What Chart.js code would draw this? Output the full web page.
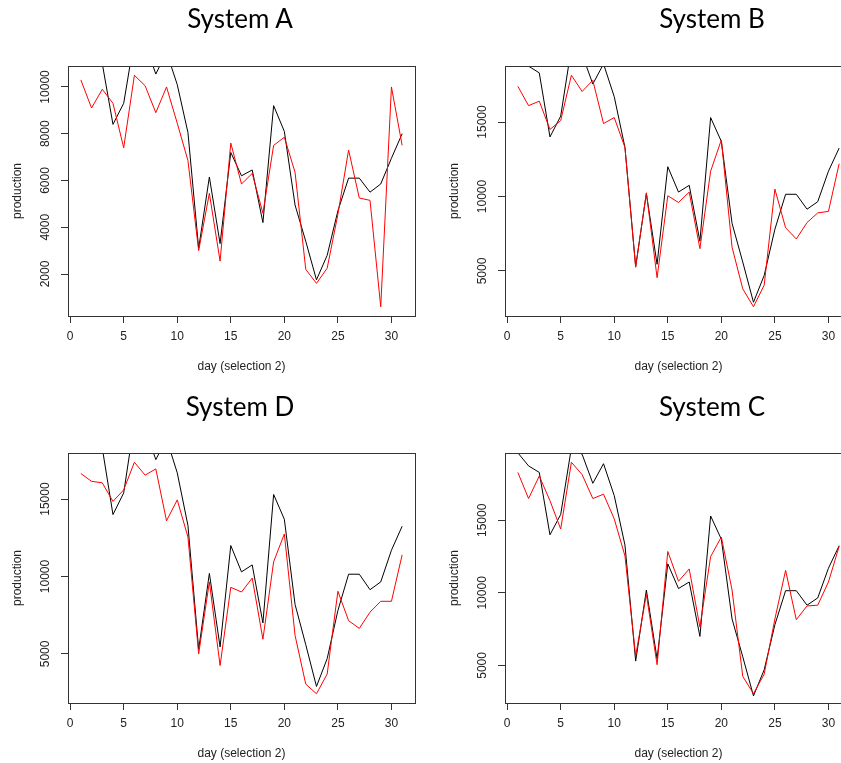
<!DOCTYPE html>
<html>
<head>
<meta charset="utf-8">
<script src="https://cdn.jsdelivr.net/npm/chart.js@4.4.1/dist/chart.umd.min.js"></script>
<style>
  html, body { margin: 0; padding: 0; background: #fff; }
  body { position: relative; width: 841px; height: 763px; overflow: hidden; }
  .panel { position: absolute; }
  .title {
    position: absolute; width: 200px; text-align: center;
    font-family: Lato, "Open Sans", sans-serif; font-size: 26px; line-height: 26px; color: #000;
  }
</style>
</head>
<body>
<canvas id="sysA" class="panel" width="437" height="387" style="left:0;top:0"></canvas>
<canvas id="sysB" class="panel" width="437" height="387" style="left:437px;top:0"></canvas>
<canvas id="sysD" class="panel" width="437" height="387" style="left:0;top:387px"></canvas>
<canvas id="sysC" class="panel" width="437" height="387" style="left:437px;top:387px"></canvas>
<div class="title" style="left:140px;top:5px">System A</div>
<div class="title" style="left:612px;top:5px">System B</div>
<div class="title" style="left:140px;top:393px">System D</div>
<div class="title" style="left:612px;top:393px">System C</div>
<script>
const days = [1, 2, 3, 4, 5, 6, 7, 8, 9, 10, 11, 12, 13, 14, 15, 16, 17, 18, 19, 20,
              21, 22, 23, 24, 25, 26, 27, 28, 29, 30, 31];
const dayTicks = [0, 5, 10, 15, 20, 25, 30];
const ticksA = [2000, 4000, 6000, 8000, 10000];
const ticksBCD = [5000, 10000, 15000];
const xTitle = 'day (selection 2)';
const yTitle = 'production';

// system A has its own measured series
const observedA = [11800, 11400, 11000, 8400, 9300, 12050, 11900, 10550, 11500, 10100, 8050,
                   3100, 6150, 3300, 7200, 6200, 6450, 4200, 9200, 8100, 4950, 3400, 1750,
                   2800, 4700, 6100, 6100, 5500, 5850, 6950, 8000];
const modelA = [10300, 9100, 9900, 9300, 7400, 10500, 10050, 8900, 10000, 8450, 6850,
                3000, 5450, 2550, 7600, 5850, 6300, 4600, 7500, 7850, 6350, 2200, 1600,
                2250, 4550, 7300, 5250, 5150, 600, 10000, 7500];

// measured production shared by B, C and D
const observed = [19650, 18750, 18300, 14000, 15400, 20000, 19550, 17550, 18900, 16700, 13300,
                  5300, 10200, 5450, 12000, 10300, 10750, 7000, 15300, 13700, 8200, 5600, 2900,
                  4700, 7800, 10150, 10150, 9150, 9650, 11700, 13250];
const modelB = [17400, 16100, 16400, 14500, 15100, 18140, 17050, 17800, 14900, 15300, 13300,
                5250, 10250, 4550, 10050, 9600, 10300, 6500, 11700, 13800, 6600, 3800, 2600,
                4050, 10500, 7900, 7150, 8250, 8900, 9000, 12200];
const modelC = [18300, 16500, 18050, 16350, 14400, 19000, 18150, 16500, 16800, 15100, 12550,
                5650, 9900, 5050, 12850, 10800, 11650, 7650, 12500, 13850, 10200, 4250, 3050,
                4400, 8200, 11550, 8150, 9100, 9150, 10750, 13200];
const modelD = [16650, 16150, 16050, 14850, 15600, 17380, 16550, 16950, 13600, 14950, 12550,
                5000, 9650, 4250, 9300, 9000, 9900, 5950, 10950, 12750, 6200, 3050, 2430,
                3700, 9050, 7150, 6650, 7700, 8400, 8400, 11400];

const FONT = '"Liberation Sans", Arial, sans-serif';
const INK = '#333';

// R-style axis limits: data range widened by 4% on each side
function rangeOf(values) {
  const lo = Math.min(...values), hi = Math.max(...values);
  const pad = (hi - lo) * 0.04;
  return { min: lo - pad, max: hi + pad };
}

function points(values) {
  return days.map((d, i) => ({ x: d, y: values[i] }));
}

// box around the plot, rotated y tick labels and axis titles
const basePlot = {
  id: 'basePlot',
  afterDraw(chart) {
    const { ctx, chartArea: a, scales: { y } } = chart;
    ctx.save();
    ctx.strokeStyle = INK;
    ctx.lineWidth = 1;
    ctx.strokeRect(a.left + 0.5, a.top + 0.5, a.right - a.left, a.bottom - a.top);

    ctx.fillStyle = '#222';
    ctx.font = '12px ' + FONT;
    ctx.textAlign = 'center';
    ctx.textBaseline = 'middle';
    y.ticks.forEach(t => {
      ctx.save();
      ctx.translate(a.left - 22, y.getPixelForValue(t.value));
      ctx.rotate(-Math.PI / 2);
      ctx.fillText(String(t.value), 0, 0);
      ctx.restore();
    });

    ctx.save();
    ctx.translate(a.left - 50, (a.top + a.bottom) / 2);
    ctx.rotate(-Math.PI / 2);
    ctx.fillText(yTitle, 0, 0);
    ctx.restore();

    ctx.fillText(xTitle, (a.left + a.right) / 2, a.bottom + 51);
    ctx.restore();
  }
};

function makePanel(id, obs, model, yTicks) {
  const xr = rangeOf(days);
  const yr = rangeOf(model);
  return new Chart(document.getElementById(id), {
    type: 'line',
    data: {
      datasets: [
        { data: points(model), borderColor: '#ff0000', borderWidth: 1, pointRadius: 0, tension: 0 },
        { data: points(obs), borderColor: '#000000', borderWidth: 1, pointRadius: 0, tension: 0 }
      ]
    },
    options: {
      responsive: false,
      animation: false,
      events: [],
      layout: { padding: { left: 0, top: 66, right: 22, bottom: 0 } },
      plugins: { legend: { display: false }, tooltip: { enabled: false } },
      scales: {
        x: {
          type: 'linear',
          min: xr.min,
          max: xr.max,
          afterBuildTicks: s => { s.ticks = dayTicks.map(v => ({ value: v })); },
          afterFit: s => { s.height = 71; },
          border: { display: false },
          grid: { drawOnChartArea: false, drawTicks: true, tickLength: 7, color: INK },
          ticks: { color: '#222', font: { family: FONT, size: 12 }, padding: 6, maxRotation: 0, autoSkip: false }
        },
        y: {
          type: 'linear',
          min: yr.min,
          max: yr.max,
          afterBuildTicks: s => { s.ticks = yTicks.map(v => ({ value: v })); },
          afterFit: s => { s.width = 68; },
          border: { display: false },
          grid: { drawOnChartArea: false, drawTicks: true, tickLength: 7, color: INK },
          ticks: { display: false }
        }
      }
    },
    plugins: [basePlot]
  });
}

makePanel('sysA', observedA, modelA, ticksA);
makePanel('sysB', observed, modelB, ticksBCD);
makePanel('sysD', observed, modelD, ticksBCD);
makePanel('sysC', observed, modelC, ticksBCD);
</script>
</body>
</html>
